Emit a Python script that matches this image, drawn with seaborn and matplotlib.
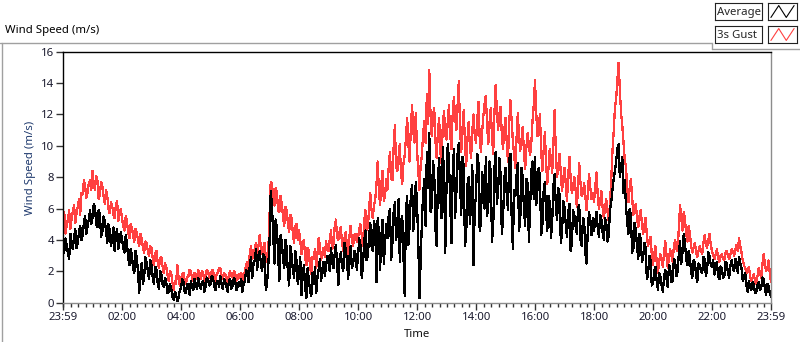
import matplotlib
matplotlib.use('Agg')
import matplotlib.pyplot as plt
import numpy as np
import pandas as pd
import seaborn as sns
from matplotlib.lines import Line2D

# 2.5-minute samples, 23:59 -> 23:59 next day
sample_step_min = 2.5

average = [
    3.6, 3.2, 4.1, 3.7, 3.1, 2.8, 4.4, 3.9, 3.4, 4.2, 4.7, 3.5, 3.8, 4.5, 4.9, 4.0, 4.3, 5.1, 5.5, 4.4, 4.9, 5.3, 5.9, 5.0,
    5.4, 6.3, 6.1, 5.0, 4.8, 5.9, 5.6, 4.2, 4.5, 5.5, 5.2, 4.6, 3.8, 5.0, 4.6, 3.6, 4.1, 4.8, 3.3, 4.3, 4.7, 3.4, 3.9, 4.5,
    4.1, 3.5, 3.2, 4.3, 3.8, 2.9, 2.4, 3.4, 3.1, 2.2, 1.9, 3.3, 2.9, 2.0, 0.6, 1.9, 2.5, 1.2, 1.6, 2.9, 2.6, 2.0, 1.5, 2.7,
    2.4, 1.6, 1.2, 2.3, 2.1, 1.3, 0.9, 2.0, 1.8, 1.2, 1.0, 1.6, 1.3, 0.6, 0.7, 1.2, 0.9, 0.4, 0.2, 0.7, 0.5, 0.1, 0.3, 0.8,
    0.9, 1.5, 1.3, 0.7, 0.6, 1.2, 1.1, 0.5, 1.4, 1.0, 0.8, 1.5, 1.2, 0.9, 1.6, 1.1, 0.9, 1.3, 1.4, 0.7, 1.0, 1.6, 1.5, 1.1,
    1.2, 1.7, 1.6, 1.1, 0.8, 1.3, 1.4, 1.0, 1.7, 1.2, 0.9, 1.5, 1.3, 1.0, 0.7, 1.4, 1.5, 0.9, 1.1, 1.6, 1.4, 0.8, 1.0, 1.3,
    1.1, 1.5, 0.7, 1.2, 1.4, 2.1, 1.9, 1.3, 2.4, 2.9, 1.6, 2.5, 2.7, 3.4, 2.1, 3.0, 3.3, 2.5, 2.0, 3.1, 2.9, 0.8, 1.2, 2.4,
    3.8, 7.1, 6.2, 4.4, 2.5, 5.3, 4.8, 3.1, 1.4, 4.3, 3.9, 2.8, 2.2, 4.0, 3.5, 1.8, 1.1, 3.6, 3.0, 2.1, 1.6, 3.3, 2.7, 1.2,
    1.8, 2.9, 0.5, 1.7, 2.4, 1.0, 0.3, 2.2, 1.5, 0.8, 0.4, 1.9, 1.2, 2.3, 0.6, 1.6, 2.1, 2.8, 1.4, 2.0, 2.6, 1.7, 2.3, 3.0,
    2.7, 2.0, 3.5, 2.6, 2.2, 3.1, 3.7, 2.5, 1.1, 2.8, 3.2, 2.4, 2.0, 3.8, 3.4, 2.7, 1.5, 2.9, 3.6, 2.2, 2.4, 3.3, 3.1, 2.1,
    2.9, 4.1, 3.7, 1.6, 2.3, 3.9, 4.6, 2.7, 3.0, 4.2, 5.1, 3.6, 3.3, 5.2, 4.8, 1.3, 5.4, 4.5, 2.1, 4.2, 5.3, 2.5, 3.8, 5.0,
    4.1, 5.6, 6.0, 2.7, 3.8, 5.8, 6.4, 4.0, 4.7, 6.6, 2.6, 5.2, 5.5, 2.9, 0.4, 5.9, 6.8, 3.7, 4.9, 6.9, 7.5, 4.6, 5.6, 7.7,
    6.3, 4.0, 0.3, 2.8, 5.2, 7.0, 7.9, 4.9, 9.6, 7.3, 10.8, 5.8, 6.1, 9.0, 8.4, 4.7, 3.6, 7.8, 9.2, 6.6, 5.4, 9.9, 8.1, 3.2,
    7.4, 10.1, 9.1, 6.4, 3.8, 8.2, 9.8, 5.4, 6.9, 9.5, 10.2, 7.7, 5.6, 9.3, 8.7, 3.6, 4.2, 7.5, 8.0, 5.0, 6.3, 8.8, 2.4, 6.1,
    6.8, 9.5, 8.9, 4.6, 5.1, 8.3, 7.6, 6.0, 9.3, 5.5, 6.2, 9.0, 8.4, 3.9, 4.8, 8.6, 9.6, 6.3, 7.1, 9.2, 8.2, 4.4, 5.3, 7.9,
    8.6, 6.9, 5.9, 9.1, 9.5, 5.5, 3.4, 7.2, 6.8, 8.1, 8.9, 4.6, 5.2, 8.6, 8.0, 5.9, 4.9, 7.9, 7.6, 3.9, 6.0, 8.4, 9.0, 6.6,
    9.3, 6.2, 7.2, 8.6, 8.1, 4.3, 5.0, 7.1, 7.7, 5.8, 4.6, 6.8, 6.4, 4.1, 5.2, 7.5, 8.2, 6.0, 5.3, 7.3, 6.9, 3.8, 4.5, 6.5,
    6.1, 5.0, 4.2, 5.7, 6.3, 3.3, 3.8, 5.9, 5.6, 4.9, 4.4, 6.0, 6.2, 4.0, 3.6, 5.4, 5.2, 3.1, 2.5, 4.8, 5.8, 5.1, 4.3, 5.4,
    4.6, 5.2, 5.8, 4.8, 4.2, 5.6, 5.3, 4.5, 4.0, 5.4, 5.1, 3.9, 4.3, 5.9, 6.4, 7.2, 7.9, 8.4, 9.0, 9.8, 10.1, 8.0, 8.6, 9.3,
    7.0, 7.8, 6.2, 5.1, 4.4, 6.0, 5.6, 3.2, 3.4, 5.1, 4.6, 3.6, 2.8, 4.4, 4.1, 2.6, 2.9, 3.8, 3.5, 1.5, 1.8, 3.0, 2.7, 1.1,
    1.2, 2.0, 2.3, 1.4, 0.8, 1.9, 1.7, 1.1, 0.7, 1.6, 2.1, 1.5, 1.0, 2.4, 2.2, 1.3, 1.4, 2.8, 2.6, 1.7, 2.0, 3.1, 3.9, 2.5,
    3.2, 4.4, 3.8, 2.8, 2.4, 3.3, 2.9, 1.9, 1.6, 2.7, 2.6, 1.8, 1.3, 2.5, 2.4, 2.0, 1.9, 2.9, 2.8, 1.7, 2.1, 3.2, 3.0, 2.4,
    2.3, 2.7, 1.8, 2.4, 2.6, 1.7, 1.5, 2.3, 2.2, 1.6, 1.7, 2.6, 2.5, 1.9, 1.6, 2.4, 2.7, 2.2, 2.0, 2.8, 2.6, 1.9, 2.9, 2.5,
    2.2, 1.4, 1.6, 1.9, 1.1, 0.7, 1.4, 1.0, 0.8, 1.3, 1.2, 0.6, 0.7, 1.1, 1.3, 0.8, 0.9, 1.6, 1.5, 0.9, 0.5, 1.2, 1.1, 0.6,
    0.4,
]

gust = [
    5.0, 5.8, 4.4, 4.9, 5.3, 5.9, 4.7, 5.4, 5.8, 6.2, 5.1, 5.7, 6.1, 6.6, 5.6, 7.0, 6.9, 7.8, 7.4, 6.7, 7.0, 7.6, 7.8, 7.2,
    8.4, 7.5, 7.2, 8.1, 7.8, 6.6, 6.9, 7.7, 7.4, 6.8, 6.3, 7.2, 6.8, 6.0, 5.7, 6.4, 6.2, 5.6, 5.4, 6.2, 6.5, 5.2, 5.6, 6.0,
    5.4, 4.9, 4.6, 5.5, 5.2, 4.5, 4.1, 5.0, 4.8, 4.3, 3.9, 4.7, 4.5, 4.0, 3.6, 4.4, 4.1, 3.5, 3.2, 3.9, 3.8, 3.3, 3.0, 3.6,
    3.5, 2.8, 2.4, 3.1, 3.3, 2.6, 2.2, 2.8, 2.9, 2.3, 1.9, 2.5, 2.3, 1.8, 1.4, 2.0, 1.9, 1.3, 0.8, 1.4, 1.2, 2.4, 1.6, 1.1,
    1.5, 1.8, 1.9, 1.4, 1.2, 1.6, 1.7, 2.1, 2.0, 1.6, 1.4, 1.9, 1.8, 1.5, 2.1, 1.7, 1.5, 2.0, 1.9, 1.4, 1.6, 2.1, 2.0, 1.6,
    1.7, 2.0, 2.1, 1.6, 1.4, 1.8, 1.9, 2.2, 2.2, 1.7, 1.5, 1.9, 1.8, 1.5, 1.3, 1.8, 2.0, 1.7, 1.6, 2.0, 1.9, 1.4, 1.5, 1.8,
    1.6, 1.9, 1.4, 1.7, 2.0, 2.4, 2.6, 2.1, 3.2, 3.6, 2.8, 3.1, 3.4, 3.8, 2.9, 3.6, 4.3, 3.5, 3.1, 3.5, 3.8, 2.9, 2.6, 3.3,
    5.6, 7.7, 7.6, 6.6, 6.2, 7.3, 7.0, 5.9, 5.8, 6.8, 6.3, 5.5, 4.9, 6.1, 5.9, 5.0, 4.5, 5.6, 5.4, 4.4, 3.8, 4.9, 5.0, 4.0,
    4.6, 4.0, 3.1, 3.8, 4.0, 2.9, 2.4, 3.5, 3.3, 2.3, 1.8, 2.9, 2.9, 3.4, 2.2, 3.1, 4.1, 3.6, 2.7, 3.2, 3.5, 2.9, 3.9, 3.4,
    3.3, 4.0, 4.6, 3.4, 3.7, 4.8, 5.3, 4.2, 4.0, 4.5, 4.8, 3.8, 3.3, 4.1, 4.5, 3.6, 3.1, 4.2, 4.9, 4.0, 3.6, 4.3, 4.4, 3.9,
    4.1, 4.7, 5.0, 4.3, 3.6, 5.1, 5.9, 4.6, 4.8, 6.0, 7.0, 5.9, 5.4, 6.2, 6.6, 7.5, 9.0, 7.1, 6.2, 7.6, 8.4, 6.5, 6.8, 7.9,
    7.2, 8.7, 9.6, 7.9, 7.8, 9.9, 11.3, 8.7, 8.4, 9.3, 10.1, 8.2, 7.6, 8.9, 9.4, 10.5, 11.8, 10.1, 9.0, 11.2, 12.6, 10.9, 10.2, 12.1,
    9.8, 8.4, 7.2, 8.8, 9.4, 10.8, 11.6, 10.2, 13.3, 11.4, 14.8, 12.0, 10.6, 11.9, 12.4, 10.3, 9.2, 10.9, 11.8, 9.6, 8.9, 11.4, 12.2, 10.7,
    10.4, 11.5, 12.6, 10.7, 9.8, 12.0, 13.1, 11.8, 11.0, 12.6, 14.1, 11.2, 9.6, 11.1, 12.3, 10.2, 8.7, 10.4, 11.5, 10.0, 9.2, 11.0, 12.0, 10.6,
    10.2, 11.6, 12.8, 10.5, 9.6, 10.9, 11.9, 12.7, 13.2, 11.4, 10.1, 11.5, 12.4, 10.6, 9.5, 12.1, 13.9, 12.2, 11.0, 12.0, 12.5, 10.7, 9.8, 11.0,
    11.8, 10.2, 9.0, 11.4, 12.9, 11.6, 10.3, 9.4, 8.6, 10.5, 12.1, 10.6, 9.7, 10.4, 11.2, 9.6, 8.5, 9.9, 10.8, 10.0, 9.4, 10.2, 11.6, 12.6,
    14.2, 12.1, 10.6, 11.3, 12.0, 9.7, 8.4, 9.6, 10.9, 8.9, 7.6, 8.6, 9.8, 9.1, 8.3, 10.2, 12.3, 9.4, 8.0, 8.8, 9.5, 8.2, 7.1, 7.9,
    8.6, 7.6, 6.5, 8.0, 9.3, 7.9, 7.0, 7.4, 8.0, 7.2, 6.1, 7.3, 8.9, 7.6, 6.8, 7.0, 7.6, 6.7, 5.9, 7.1, 8.2, 7.3, 6.6, 7.0,
    6.4, 7.4, 8.3, 6.9, 6.0, 6.5, 7.1, 6.1, 5.4, 6.1, 6.6, 5.8, 5.2, 6.3, 7.8, 9.6, 10.9, 12.4, 13.0, 14.2, 15.3, 13.6, 12.1, 11.3,
    10.2, 9.1, 8.7, 7.3, 6.4, 7.3, 7.9, 6.7, 5.6, 6.0, 6.3, 5.4, 4.8, 5.5, 5.9, 5.0, 4.4, 5.0, 5.4, 4.3, 3.6, 4.0, 4.2, 3.1,
    2.4, 3.1, 3.6, 2.6, 1.9, 2.6, 3.1, 2.8, 2.3, 3.2, 3.9, 3.0, 2.2, 2.9, 3.4, 3.0, 2.6, 3.6, 4.0, 3.4, 3.3, 4.7, 6.2, 5.4,
    4.6, 5.8, 5.3, 4.4, 3.9, 4.9, 4.4, 3.6, 3.2, 3.5, 3.8, 3.3, 2.9, 3.3, 3.6, 3.3, 3.1, 3.8, 4.3, 3.8, 3.5, 4.0, 4.4, 3.7,
    3.3, 3.0, 2.8, 3.1, 3.4, 2.9, 2.6, 3.0, 3.1, 2.8, 2.7, 3.2, 3.3, 3.0, 2.8, 3.1, 3.4, 3.3, 3.0, 3.4, 3.7, 3.3, 4.1, 3.6,
    3.2, 2.7, 2.4, 2.2, 1.9, 2.0, 2.3, 1.7, 1.4, 1.6, 1.8, 1.4, 1.2, 1.7, 2.2, 1.9, 1.6, 2.4, 3.1, 2.5, 2.0, 2.2, 2.7, 1.9,
    1.3,
]

tick_labels = ['23:59', '02:00', '04:00', '06:00', '08:00', '10:00', '12:00',
               '14:00', '16:00', '18:00', '20:00', '22:00', '23:59']

W, H = 800, 342

sns.set_theme(style='white')
plt.rcParams['font.family'] = ['Noto Sans', 'DejaVu Sans']

minutes = np.arange(len(average)) * sample_step_min
df = pd.DataFrame({'Time': minutes, 'Average': average, '3s Gust': gust})

fig = plt.figure(figsize=(W / 100, H / 100), dpi=100)
ax = fig.add_axes([63 / W, 1 - 302.7 / H, 708 / W, 251 / H])

# crisp 1px traces like the original instrument panel
sns.lineplot(data=df, x='Time', y='3s Gust', color='#ff4040', lw=0.9,
             antialiased=False, ax=ax)
sns.lineplot(data=df, x='Time', y='Average', color='black', lw=0.9,
             antialiased=False, ax=ax)

ax.set_xlim(0, 1440)
ax.set_ylim(0, 16)

# ticks: 23:59 start, then even hours (offset 1 min), last tick 23:59
tick_pos = [0] + [h * 60 + 1 for h in range(2, 24, 2)] + [1440]
ax.set_xticks(tick_pos)
ax.set_xticklabels(tick_labels)
ax.set_xticks(np.arange(1, 1440, 15), minor=True)
ax.set_yticks(np.arange(0, 17, 2))

tick_color = '#1b1b2f'
ax.tick_params(axis='x', which='major', bottom=True, length=5, width=1,
               color='#333333', labelsize=8.2, labelcolor=tick_color, pad=2)
ax.tick_params(axis='x', which='minor', bottom=True, length=3, width=1,
               color='#333333')
ax.tick_params(axis='y', which='major', left=True, length=5, width=1,
               color='#333333', labelsize=8.2, labelcolor=tick_color, pad=1.5)

ax.set_xlabel('Time', fontsize=8.2, color='#111111')
ax.xaxis.set_label_coords(0.4995, -0.105)
ax.set_ylabel('Wind Speed (m/s)', fontsize=8.2, color='#1f3a6e')
ax.yaxis.set_label_coords(-0.038, 0.537)

for side in ['top', 'left']:
    ax.spines[side].set_color('black')
    ax.spines[side].set_linewidth(1)
for side in ['right', 'bottom']:
    ax.spines[side].set_color('#8c8c8c')
    ax.spines[side].set_linewidth(1)

# outer panel frame
frame_c = '#a0a0a0'
fig.add_artist(Line2D([0, 712 / W], [1 - 42.5 / H] * 2, color=frame_c, lw=1,
                      transform=fig.transFigure))
fig.add_artist(Line2D([1.5 / W] * 2, [0, 1 - 42.5 / H], color=frame_c, lw=1,
                      transform=fig.transFigure))
fig.add_artist(Line2D([712 / W] * 2, [1 - 42.5 / H, 1 - 49 / H], color=frame_c,
                      lw=1, transform=fig.transFigure))
fig.add_artist(Line2D([712 / W, 1], [1 - 49 / H] * 2, color=frame_c, lw=1,
                      transform=fig.transFigure))

fig.text(5 / W, 1 - 31 / H, 'Wind Speed (m/s)', fontsize=8.2, va='center',
         ha='left', color='black')

# legend: name box + line icon box for each series
for i, (name, col) in enumerate([('Average', 'black'), ('3s Gust', '#ff4040')]):
    top = 3 + i * 23
    tax = fig.add_axes([715 / W, 1 - (top + 17) / H, 47 / W, 17 / H])
    tax.set_xticks([])
    tax.set_yticks([])
    tax.set_facecolor('white')
    for s in tax.spines.values():
        s.set_color('#222222')
        s.set_linewidth(0.8)
    tax.text(0.04, 0.45, name, fontsize=8.2, va='center', ha='left',
             transform=tax.transAxes)

    iax = fig.add_axes([768 / W, 1 - (top + 17) / H, 29 / W, 17 / H])
    iax.set_xticks([])
    iax.set_yticks([])
    for s in iax.spines.values():
        s.set_color('#222222')
        s.set_linewidth(0.8)
    iax.plot([0.1, 0.37, 0.63, 0.9], [0.15, 0.85, 0.15, 0.85], color=col, lw=0.8)
    iax.set_xlim(0, 1)
    iax.set_ylim(0, 1)

fig.savefig('out.png', dpi=100)
